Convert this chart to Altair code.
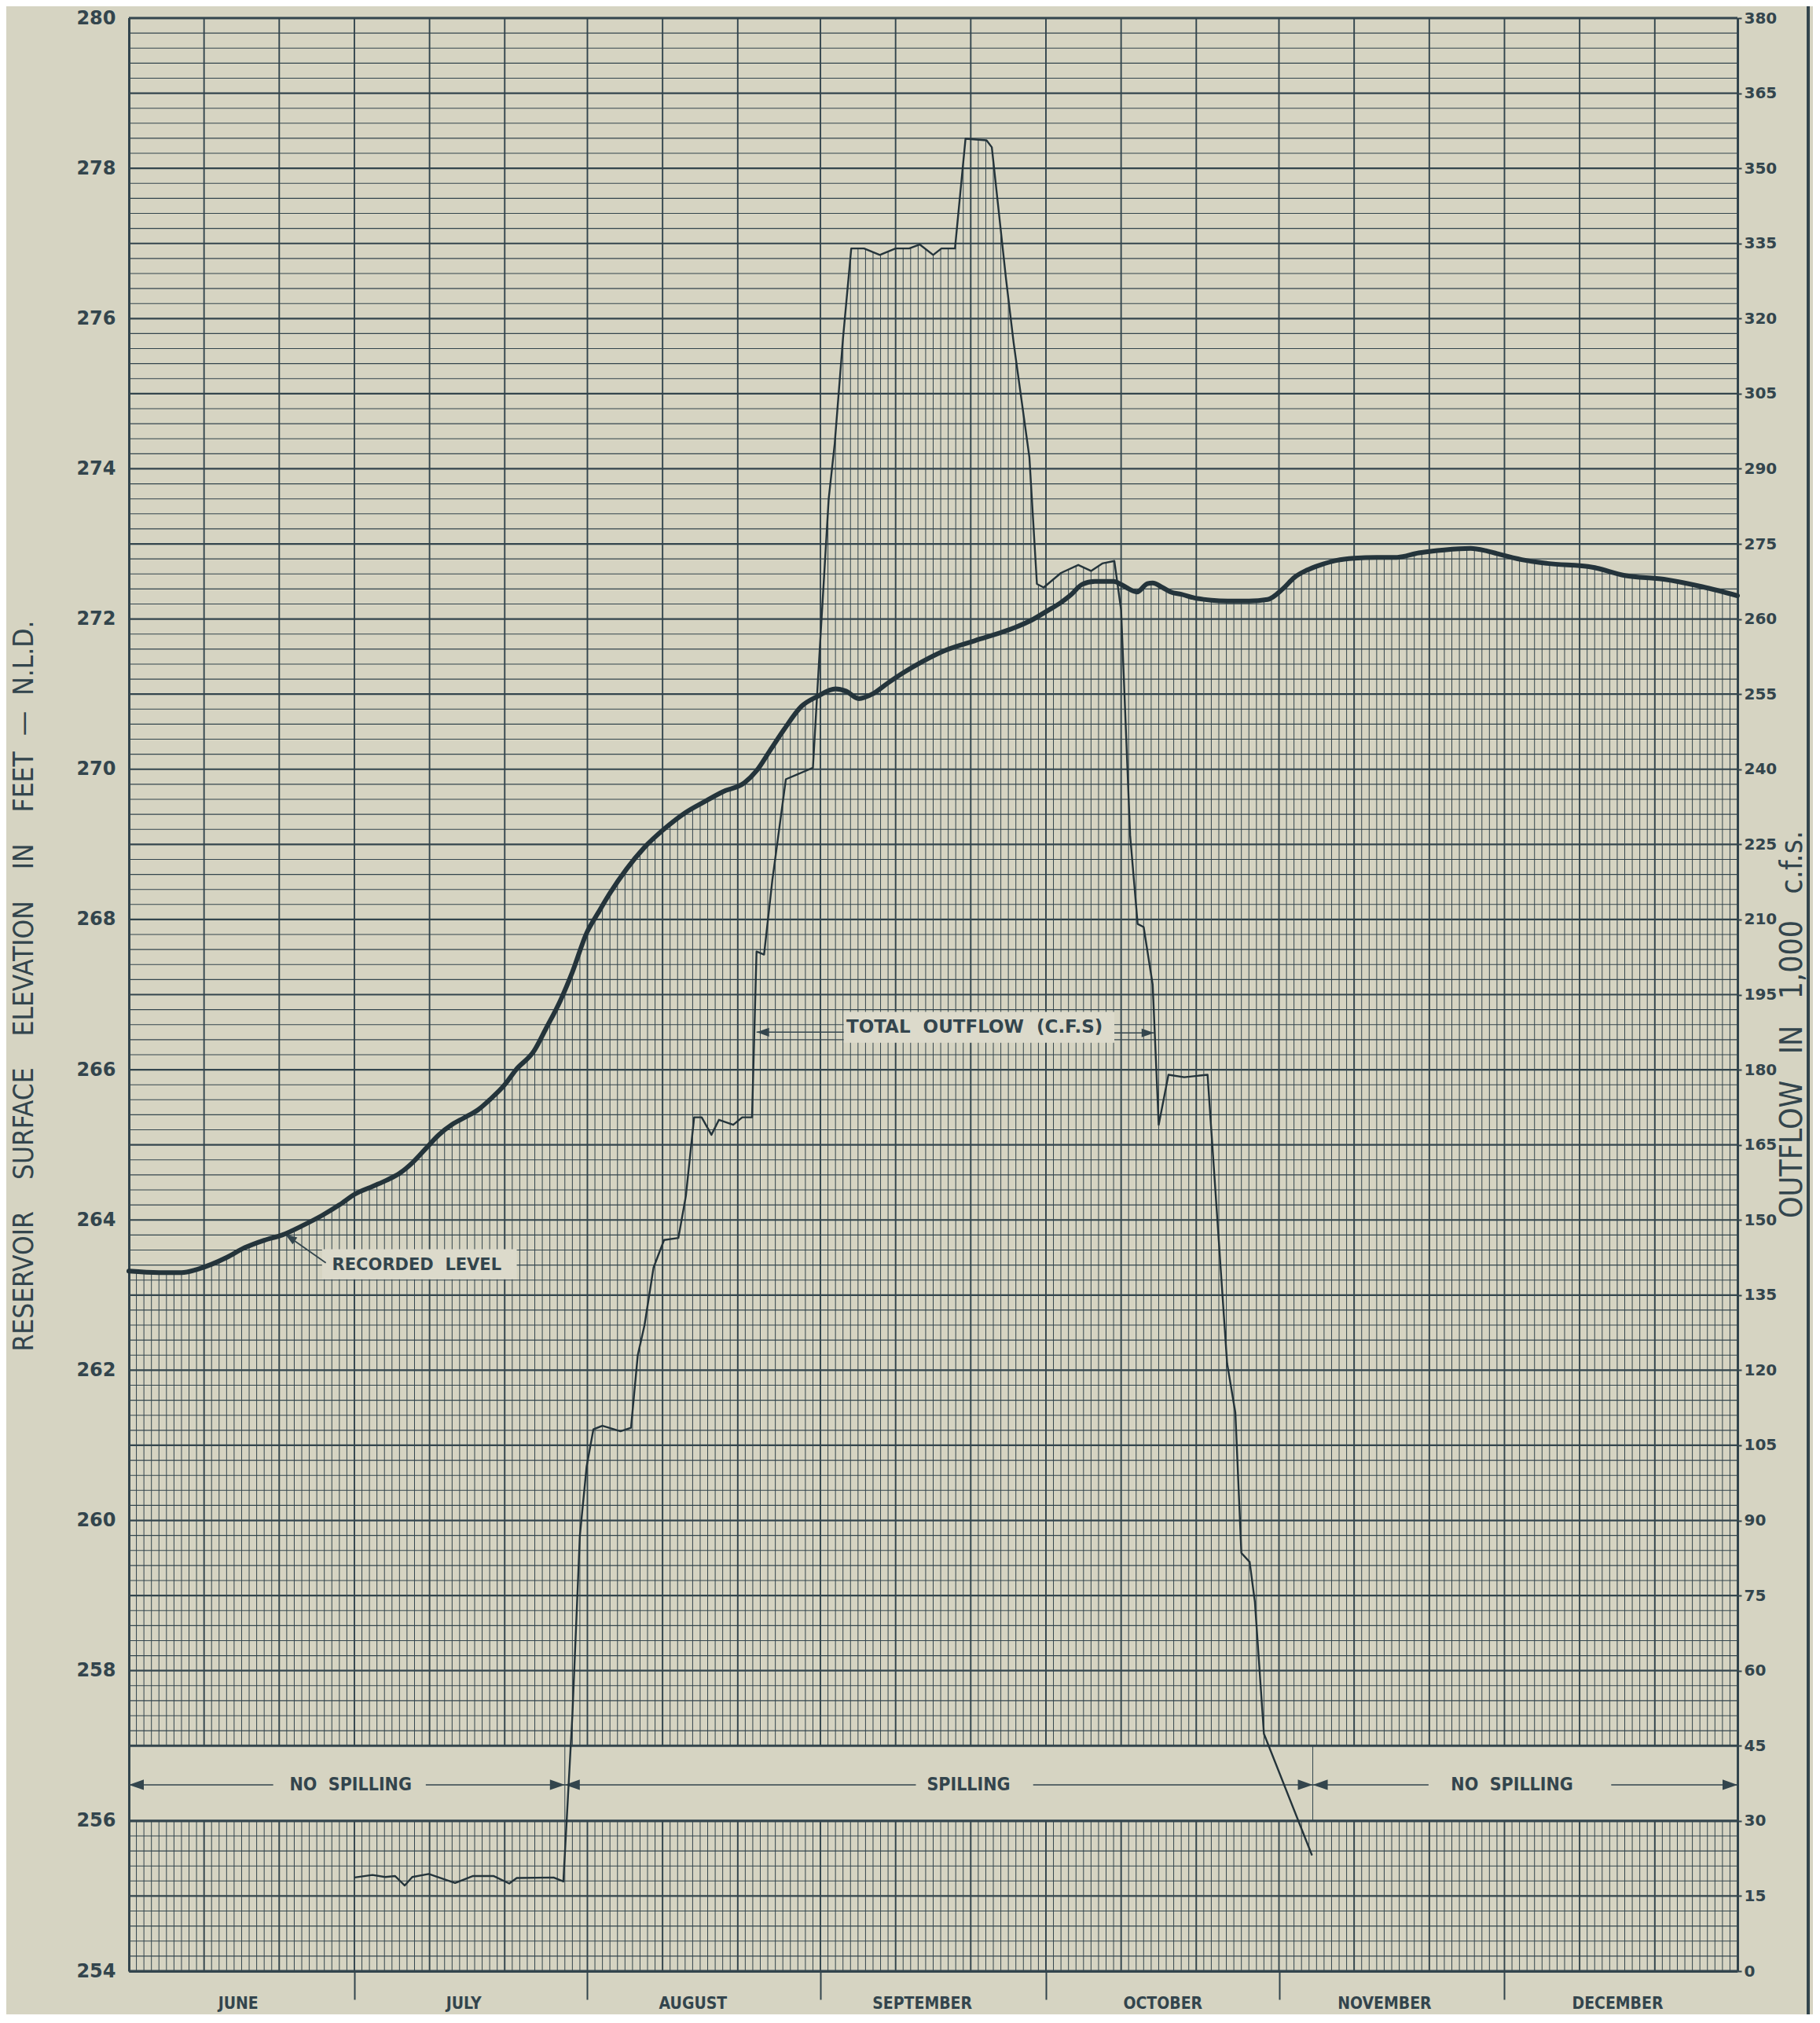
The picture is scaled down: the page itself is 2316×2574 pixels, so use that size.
import altair as alt
import numpy as np
import pandas as pd

# ---------------- data ----------------
# day 0 = 1 June, day 214 = 31 December (end)
level_day = [0, 4, 7, 9, 11, 13, 15.4, 18, 20.4, 23, 25.7, 28, 30, 32.5, 34.3, 36, 37.7, 39.5,
             41.2, 43, 44.6, 46.5, 48, 50, 51.5, 53.9, 55.5, 57.4, 59, 60.9, 62.5, 64, 66.2,
             68.5, 71.4, 74, 76.6, 79, 81.9, 83.5, 85.3, 87.1, 89.5, 91.6, 94, 95.4, 97.1, 98.9,
             101, 103.1, 105.5, 108.3, 112.5, 117.7, 120, 122.2, 124, 125.3, 126.8, 128.5, 131,
             132, 132.7, 134.1, 135.5, 136.2, 137.5, 138.6, 140, 141.8, 144, 146.2, 149, 151.5,
             153.6, 155, 156.7, 158.5, 160.6, 163, 166, 168.5, 171.6, 175, 178.5, 180.5, 182,
             185.3, 188.7, 194.7, 199, 204.2, 209.3, 214]
level_ft = [263.32, 263.30, 263.30, 263.34, 263.41, 263.50, 263.63, 263.73, 263.80, 263.92,
            264.06, 264.20, 264.34, 264.45, 264.53, 264.62, 264.76, 264.95, 265.13, 265.27,
            265.36, 265.47, 265.60, 265.80, 266.00, 266.25, 266.55, 266.92, 267.30, 267.82,
            268.10, 268.35, 268.67, 268.95, 269.22, 269.42, 269.57, 269.70, 269.82, 269.98,
            270.25, 270.52, 270.84, 270.97, 271.07, 271.04, 270.94, 271.00, 271.15, 271.29,
            271.43, 271.57, 271.71, 271.88, 271.98, 272.11, 272.22, 272.32, 272.46, 272.50,
            272.50, 272.46, 272.42, 272.36, 272.47, 272.48, 272.42, 272.36, 272.33, 272.28,
            272.25, 272.24, 272.24, 272.26, 272.41, 272.55, 272.65, 272.72, 272.78, 272.81,
            272.82, 272.82, 272.88, 272.92, 272.94, 272.91, 272.87, 272.79, 272.74, 272.69,
            272.58, 272.53, 272.43, 272.31]

out_day = [30, 32.4, 34.1, 35.4, 36.7, 37.7, 39.9, 43.4, 45.8, 48.5, 50.6, 51.6, 56.5, 57.8,
           59.0, 60.0, 60.9, 61.8, 63.0, 65.4, 66.8, 67.7, 68.6, 69.8, 71.2, 73.1, 74.1, 75.2,
           76.2, 77.5, 78.5, 80.4, 81.6, 82.9, 83.5, 84.5, 85.6, 87.4, 91.0, 91.9, 93.1, 93.9,
           95.0, 96.1, 97.8, 99.9, 102, 103.8, 105.2, 107, 108.1, 109.9, 111.3, 114.1, 114.8,
           116.7, 117.7, 119.8, 120.8, 121.7, 124, 126.3, 128, 129.5, 131.1, 132.0, 133.2,
           134.2, 135, 136.2, 137, 138.3, 140.4, 143.5, 146.1, 147.2, 148, 149.1, 149.8, 151,
           157.4]
out_kcfs = [18.7, 19.2, 18.8, 19.0, 17.1, 18.8, 19.4, 17.6, 19.0, 19.0, 17.5, 18.6, 18.7, 17.9,
            51, 87, 100.8, 108.2, 108.9, 107.8, 108.5, 123, 129, 140.5, 146, 146.4, 154.8, 170.5,
            170.5, 167, 170, 169, 170.5, 170.5, 203.6, 203, 217.8, 238, 240.3, 257.9, 284, 295,
            316, 334, 334, 332.7, 334, 334, 334.8, 332.7, 334, 334, 355.9, 355.6, 354.2,
            327.8, 315.2, 292.3, 267, 266.3, 269.2, 270.8, 269.6, 271.1, 271.6, 261.8, 226.8,
            209.1, 208.5, 197, 169, 179, 178.5, 179, 121.4, 111.5, 83.5, 81.7, 73.7, 47.4,
            23.1]

elev_ticks = list(range(254, 281, 2))
outflow_ticks = [0, 15, 30, 45, 60, 75, 90, 105, 120, 135, 150, 165, 180, 195, 210, 225, 240,
                 255, 260, 275, 290, 305, 320, 335, 350, 365, 380]
# printed right-hand scale is irregular (…240, 255, 260, 275…): piecewise scale breakpoints
outflow_break = [0, 255, 260, 380]
outflow_break_ft = [254, 271, 272, 280]

month_names = ["JUNE", "JULY", "AUGUST", "SEPTEMBER", "OCTOBER", "NOVEMBER", "DECEMBER"]
month_bounds = [30, 61, 92, 122, 153, 183]
month_label_day = [14.5, 44.5, 75, 105.5, 137.5, 167, 198]
ten_day_lines = [0, 10, 20, 30, 40, 50, 61, 71, 81, 92, 102, 112, 122, 132, 142, 153, 163, 173,
                 183, 193, 203, 214]

spill_start, spill_end = 58.0, 157.5
band_y = 256.48
band_texts = ["NO\u00a0\u00a0SPILLING", "SPILLING", "NO\u00a0\u00a0SPILLING"]
band_text_day = [29.5, 111.7, 184.0]
band_seg_x0 = [0, 39.5, 58, 120.3, 157.5, 197.2]
band_seg_x1 = [19.2, 58, 104.7, 157.5, 172.9, 214]

# annotation boxes / labels
rec_box = dict(x0=25.7, x1=51.6, y0=263.21, y1=263.61)
rec_text = dict(d=38.3, y=263.40, t="RECORDED\u00a0\u00a0LEVEL")
rec_leader = dict(x0=26.2, y0=263.43, x1=20.8, y1=263.81)
tot_box = dict(x0=95.1, x1=131.1, y0=266.36, y1=266.77)
tot_text = dict(d=112.5, y=266.57, t="TOTAL\u00a0\u00a0OUTFLOW\u00a0\u00a0(C.F.S)")
tot_seg_x0 = [83.5, 128.7]
tot_seg_x1 = [96.5, 136.4]
tot_seg_y = [266.50, 266.49]

# ---------------- styling ----------------
PAPER = "#d6d4c2"
BOXFILL = "#dcdacb"
INK = "#33454d"
COND = "'Liberation Sans Narrow', 'DejaVu Sans Condensed', 'DejaVu Sans', sans-serif"
GEO = "'DejaVu Sans', 'Noto Sans', sans-serif"
W, H = 2047, 2485

xs = alt.Scale(domain=[0, 214], nice=False, zero=False)
ys = alt.Scale(domain=[254, 280], nice=False, zero=False)

# ---------------- derived helper tables ----------------
days = np.arange(1, 214)
lev_d = np.interp(days, level_day, level_ft)
out_ft = np.interp(out_kcfs, outflow_break, outflow_break_ft)
outf_d = np.interp(days, out_day, out_ft, left=254.0, right=254.0)
env = np.maximum(lev_d, outf_d)
hatch = pd.DataFrame({
    "d": np.concatenate([days, days]),
    "y0": np.concatenate([np.full(len(days), 254.0), np.full(len(days), 257.0)]),
    "y1": np.concatenate([np.full(len(days), 256.0), env]),
})

hy = [round(254 + 0.2 * i, 1) for i in range(131)]
hy = [v for v in hy if not (256 < v < 257)]
edge_h = [254, 256, 257, 280]
minor_h = pd.DataFrame({"y": [v for v in hy if abs(v - round(v)) > 1e-6], "x0": 0, "x1": 214})
major_h = pd.DataFrame({"y": [v for v in hy if abs(v - round(v)) < 1e-6 and round(v) not in edge_h],
                        "x0": 0, "x1": 214})
edge_hdf = pd.DataFrame({"y": edge_h, "x0": 0, "x1": 214})

vten = pd.DataFrame({"d": ten_day_lines * 2,
                     "y0": [254.0] * len(ten_day_lines) + [257.0] * len(ten_day_lines),
                     "y1": [256.0] * len(ten_day_lines) + [280.0] * len(ten_day_lines)})

level_df = pd.DataFrame({"day": level_day, "ft": level_ft})
out_df = pd.DataFrame({"day": out_day, "kcfs": out_kcfs})

# ---------------- axes ----------------
lab_expr = " : ".join(f"datum.value == {d} ? '{n}'" for d, n in zip(month_label_day, month_names)) + " : ''"
bound_list = "[" + ",".join(str(b) for b in month_bounds) + "]"
x_axis = alt.Axis(
    values=sorted(month_bounds + month_label_day), labelExpr=lab_expr,
    tickSize=36, tickWidth=2, tickColor=INK,
    tickOpacity={"condition": {"test": f"indexof({bound_list}, datum.value) < 0", "value": 0}, "value": 1},
    labelFont=COND, labelFontSize=21, labelFontWeight="bold", labelColor=INK,
    labelBaseline="middle", labelPadding=5, labelAngle=0, labelOverlap=False, labelFlush=False,
    domain=True, domainWidth=3, domainColor=INK, grid=False, title="")

S4 = "\u00a0" * 4
y_axis = alt.Axis(
    values=elev_ticks, ticks=False, labelPadding=17, labelFont=GEO, labelFontSize=24,
    labelFontWeight="bold", labelColor=INK, labelOverlap=False, labelFlush=False,
    domain=True, domainWidth=3, domainColor=INK, grid=False,
    title=f"RESERVOIR{S4}SURFACE{S4}ELEVATION{S4}IN{S4}FEET\u00a0\u00a0—\u00a0\u00a0N.L.D.",
    titleFont=COND, titleFontSize=35, titleFontWeight="normal", titleColor=INK,
    titleAngle=270, titleX=-134, titleY=1231, titleAlign="center", titleBaseline="middle")

r_axis = alt.Axis(
    orient="right", values=outflow_ticks, tickSize=5, tickWidth=2, tickColor=INK,
    labelPadding=3, labelFont=GEO, labelFontSize=20, labelFontWeight="bold", labelColor=INK,
    labelOverlap=False, labelFlush=False, domain=True, domainWidth=3, domainColor=INK, grid=False,
    title="OUTFLOW\u00a0\u00a0\u00a0IN\u00a0\u00a0\u00a01,000\u00a0\u00a0\u00a0c.f.s.",
    titleFont=COND, titleFontSize=39, titleFontWeight="normal", titleColor=INK,
    titleAngle=270, titleX=69, titleY=1280, titleAlign="center", titleBaseline="middle")


def X(field):
    return alt.X(field, scale=xs, axis=x_axis)


def Y(field):
    return alt.Y(field, scale=ys, axis=y_axis)


# ---------------- layers on elevation scale ----------------
hatch_l = alt.Chart(hatch).mark_rule(color=INK, strokeWidth=1.0).encode(
    x=X("d:Q"), y=Y("y0:Q"), y2="y1:Q")


def hrules(df, w):
    return alt.Chart(df).mark_rule(color=INK, strokeWidth=w).encode(
        x=X("x0:Q"), x2="x1:Q", y=Y("y:Q"))


minor_l = hrules(minor_h, 1.1)
major_l = hrules(major_h, 2.2)
edge_l = hrules(edge_hdf, 3.2)

vten_l = alt.Chart(vten).mark_rule(color=INK, strokeWidth=1.9).encode(
    x=X("d:Q"), y=Y("y0:Q"), y2="y1:Q")

spill_df = pd.DataFrame({"d": [spill_start, spill_end], "y0": 256.0, "y1": 257.0})
spill_l = alt.Chart(spill_df).mark_rule(color=INK, strokeWidth=1.0).encode(
    x=X("d:Q"), y=Y("y0:Q"), y2="y1:Q")

seg_df = pd.DataFrame({"x0": band_seg_x0 + tot_seg_x0, "x1": band_seg_x1 + tot_seg_x1,
                       "y": [band_y] * len(band_seg_x0) + tot_seg_y})
seg_l = alt.Chart(seg_df).mark_rule(color=INK, strokeWidth=1.6).encode(
    x=X("x0:Q"), x2="x1:Q", y=Y("y:Q"))

right_arrows = pd.DataFrame({"d": [spill_start, spill_end, 214, tot_seg_x1[1]],
                             "y": [band_y, band_y, band_y, tot_seg_y[1]],
                             "s": [1444, 1444, 1444, 1024]})
left_arrows = pd.DataFrame({"d": [0, spill_start, spill_end, tot_seg_x0[0]],
                            "y": [band_y, band_y, band_y, tot_seg_y[0]],
                            "s": [1444, 1444, 1444, 1024]})
ra_l = alt.Chart(right_arrows).mark_point(shape="M-1,-0.35L0,0L-1,0.35Z", filled=True, color=INK,
                                          opacity=1).encode(
    x=X("d:Q"), y=Y("y:Q"), size=alt.Size("s:Q", scale=None))
la_l = alt.Chart(left_arrows).mark_point(shape="M1,-0.35L0,0L1,0.35Z", filled=True, color=INK,
                                         opacity=1).encode(
    x=X("d:Q"), y=Y("y:Q"), size=alt.Size("s:Q", scale=None))

band_df = pd.DataFrame({"d": band_text_day, "y": band_y, "t": band_texts})
band_l = alt.Chart(band_df).mark_text(font=COND, fontSize=23, fontWeight="bold", color=INK,
                                      align="center", baseline="middle").encode(
    x=X("d:Q"), y=Y("y:Q"), text="t:N")

box_df = pd.DataFrame([rec_box, tot_box])
box_l = alt.Chart(box_df).mark_rect(color=BOXFILL).encode(
    x=X("x0:Q"), x2="x1:Q", y=Y("y0:Q"), y2="y1:Q")

txt_df = pd.DataFrame([rec_text, tot_text])
txt_df["fs"] = [21, 23]
txt_l = alt.Chart(txt_df).mark_text(font=GEO, fontWeight="bold", color=INK, align="center",
                                    baseline="middle").encode(
    x=X("d:Q"), y=Y("y:Q"), text="t:N", size=alt.Size("fs:Q", scale=None))

leader_df = pd.DataFrame([rec_leader])
leader_l = alt.Chart(leader_df).mark_rule(color=INK, strokeWidth=1.8).encode(
    x=X("x0:Q"), x2="x1:Q", y=Y("y0:Q"), y2="y1:Q")
leader_tip = alt.Chart(pd.DataFrame({"d": [rec_leader["x1"]], "y": [rec_leader["y1"]]})).mark_point(
    shape="M1,-0.35L0,0L1,0.35Z", filled=True, color=INK, opacity=1, size=900, angle=34).encode(
    x=X("d:Q"), y=Y("y:Q"))

level_l = alt.Chart(level_df).mark_line(color="#24343b", strokeWidth=6, strokeJoin="round",
                                        strokeCap="round", interpolate="monotone").encode(
    x=X("day:Q"), y=Y("ft:Q"))

frame_l = alt.Chart(pd.DataFrame({"a": [0]})).mark_rule(color=INK, strokeWidth=4).encode(
    x=alt.value(2137), y=alt.value(-23), y2=alt.value(2551))

ft_group = alt.layer(hatch_l, minor_l, major_l, edge_l, vten_l, spill_l, seg_l, ra_l, la_l,
                     band_l, box_l, txt_l, leader_l, leader_tip, level_l, frame_l)

# ---------------- outflow layer (right scale) ----------------
out_scale = alt.Scale(domain=outflow_break,
                      range=[H * (280 - f) / 26 for f in outflow_break_ft],
                      nice=False, zero=False)
out_l = alt.Chart(out_df).mark_line(color="#24343b", strokeWidth=2.4, strokeJoin="round").encode(
    x=X("day:Q"), y=alt.Y("kcfs:Q", scale=out_scale, axis=r_axis))

chart = alt.layer(ft_group, out_l).resolve_scale(y="independent").properties(
    width=W, height=H,
    autosize=alt.AutoSizeParams(type="none"),
    padding={"left": 156, "top": 15, "right": 96, "bottom": 55},
    background=PAPER,
).configure_view(strokeWidth=0)

chart.save("out.html", embed_options={"renderer": "svg", "actions": False})
